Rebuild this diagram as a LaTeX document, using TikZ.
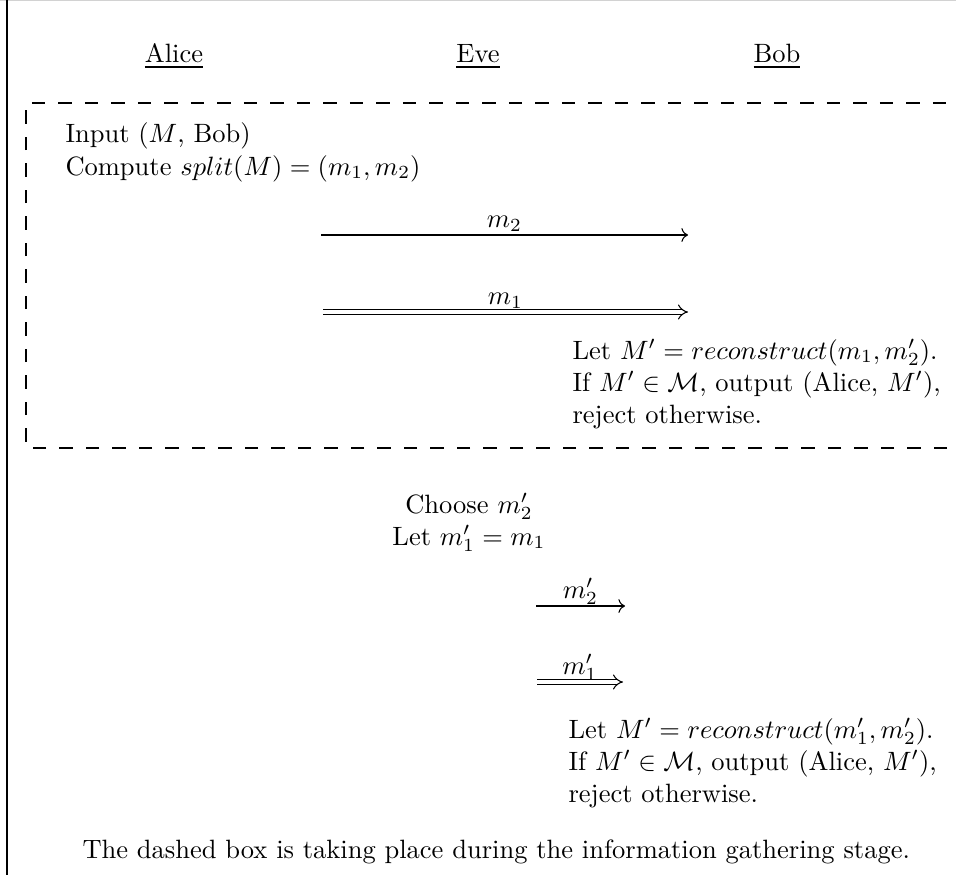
\documentclass[tikz,border=0pt]{standalone}
\usetikzlibrary{arrows.meta}
\begin{document}
\begin{tikzpicture}[x=0.37736pt,y=-0.37736pt,
  txt/.style={inner sep=0pt,anchor=base west},
  ctxt/.style={inner sep=0pt,anchor=base},
  msg/.style={->},
  dmsg/.style={double,double distance=1.6pt,-{Implies}},
  lbl/.style={inner sep=0pt,anchor=base,yshift=3pt},
  dbox/.style={dash pattern=on 5pt off 5pt}]
\useasboundingbox (0,0) rectangle (956,875);
\clip (0,0) rectangle (956,875);
% frame remnants
\draw[gray!35] (0,0.6) -- (956,0.6);
\draw[line width=0.6pt] (7,0) -- (7,875);
% headers
\node[ctxt] (alice) at (174,63) {\underline{Alice}};
\node[ctxt] (eve) at (478,63) {\underline{Eve}};
\node[ctxt] (bob) at (777,63) {\underline{Bob}};
% dashed box
\draw[dbox] (1000,448) -- (26,448) -- (26,103) -- (1000,103);
% Alice
\node[txt] (in) at (65,143) {Input ($M$, Bob)};
\node[txt] (cmp) at (65,175) {Compute $split(M) = (m_1, m_2)$};
% first messages
\coordinate (s2) at (321,235); \coordinate (e2) at (688,235);
\draw[msg] (s2) -- (e2) node[lbl,midway] {$m_2$};
\coordinate (s1) at (323,312); \coordinate (e1) at (688,312);
\draw[dmsg] (s1) -- (e1) node[lbl,midway] {$m_1$};
% Bob block 1
\node[txt] (b1a) at (572,359) {Let $M' = reconstruct(m_1, m_2')$.};
\node[txt] (b1b) at (572,391) {If $M' \in \mathcal{M}$, output (Alice, $M'$),};
\node[txt] (b1c) at (572,423) {reject otherwise.};
% Eve
\node[ctxt] (ch) at (469,513) {Choose $m_2'$};
\node[ctxt] (lt) at (469,545) {Let $m_1' = m_1$};
% second messages
\coordinate (t2) at (536,606); \coordinate (f2) at (625,606);
\draw[msg] (t2) -- (f2) node[lbl,midway] {$m_2'$};
\coordinate (t1) at (537,682); \coordinate (f1) at (623,682);
\draw[dmsg] (t1) -- (f1) node[lbl,midway] {$m_1'$};
% Bob block 2
\node[txt] (b2a) at (568,738) {Let $M' = reconstruct(m_1', m_2')$.};
\node[txt] (b2b) at (568,770) {If $M' \in \mathcal{M}$, output (Alice, $M'$),};
\node[txt] (b2c) at (568,802) {reject otherwise.};
% caption
\node[txt] (cap) at (82,858) {The dashed box is taking place during the information gathering stage.};
\end{tikzpicture}
\end{document}
